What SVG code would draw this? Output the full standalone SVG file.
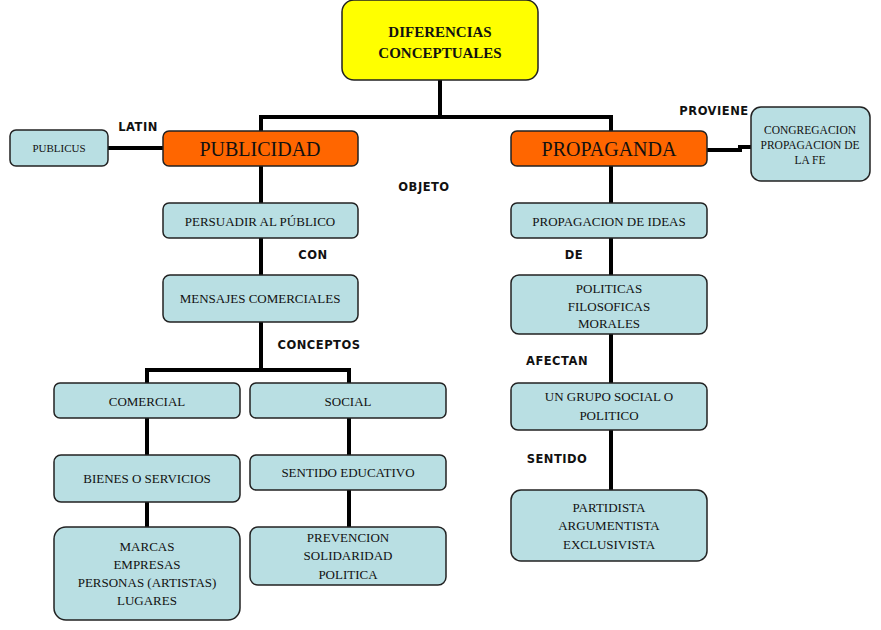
<svg xmlns="http://www.w3.org/2000/svg" width="881" height="630" viewBox="0 0 881 630">
<style>
.b{fill:#b9dfe3;stroke:#222;stroke-width:1.5}
.o{fill:#ff6600;stroke:#222;stroke-width:1.5}
.y{fill:#ffff00;stroke:#222;stroke-width:1.5}
text{font-family:"Liberation Serif",serif;font-size:13px;fill:#111;text-anchor:middle}
.l{font-family:"DejaVu Sans",sans-serif;font-size:11.5px;font-weight:bold;letter-spacing:0.5px}
.big{font-size:20px}
.t{font-size:15px;font-weight:bold}
.c line,.c path{stroke:#000;stroke-width:4;fill:none}
</style>
<rect width="881" height="630" fill="#fff"/>
<g class="c">
<line x1="440" y1="80" x2="440" y2="117"/>
<path d="M261 131V117H611V131"/>
<line x1="108" y1="148" x2="163" y2="148"/>
<path d="M707 150H740V147H751"/>
<line x1="261" y1="166" x2="261" y2="275"/>
<line x1="611" y1="166" x2="611" y2="490"/>
<line x1="261" y1="322" x2="261" y2="370"/>
<path d="M147 383V370H349V383"/>
<line x1="147" y1="418" x2="147" y2="527"/>
<line x1="349" y1="418" x2="349" y2="527"/>
</g>
<g id="title"><rect class="y" x="342" y="0" width="196" height="80" rx="12"/><text class="t" x="440" y="37">DIFERENCIAS</text><text class="t" x="440" y="58">CONCEPTUALES</text></g>
<g id="publicidad"><rect class="o" x="163" y="131" width="195" height="35" rx="6"/><text class="big" x="260" y="156">PUBLICIDAD</text></g>
<g id="propaganda"><rect class="o" x="511" y="131" width="196" height="35" rx="6"/><text class="big" x="609" y="156">PROPAGANDA</text></g>
<g id="publicus"><rect class="b" x="10" y="130" width="98" height="36" rx="6"/><text x="59" y="152" style="font-size:11px">PUBLICUS</text></g>
<g id="congregacion"><rect class="b" x="751" y="107" width="119" height="74" rx="10"/><text x="810" y="134" style="font-size:11.5px">CONGREGACION</text><text x="810" y="149" style="font-size:11.5px">PROPAGACION DE</text><text x="810" y="164" style="font-size:11.5px">LA FE</text></g>
<g id="persuadir"><rect class="b" x="163" y="203" width="195" height="35" rx="6"/><text x="260" y="226">PERSUADIR AL PÚBLICO</text></g>
<g id="ideas"><rect class="b" x="511" y="203" width="196" height="35" rx="6"/><text x="609" y="226">PROPAGACION DE IDEAS</text></g>
<g id="mensajes"><rect class="b" x="163" y="275" width="195" height="47" rx="7"/><text x="260" y="303">MENSAJES COMERCIALES</text></g>
<g id="politicas"><rect class="b" x="511" y="275" width="196" height="59" rx="8"/><text x="609" y="293">POLITICAS</text><text x="609" y="311">FILOSOFICAS</text><text x="609" y="328">MORALES</text></g>
<g id="comercial"><rect class="b" x="54" y="383" width="186" height="35" rx="6"/><text x="147" y="406">COMERCIAL</text></g>
<g id="social"><rect class="b" x="250" y="383" width="196" height="35" rx="6"/><text x="348" y="406">SOCIAL</text></g>
<g id="grupo"><rect class="b" x="511" y="383" width="196" height="47" rx="7"/><text x="609" y="401">UN GRUPO SOCIAL O</text><text x="609" y="420">POLITICO</text></g>
<g id="bienes"><rect class="b" x="54" y="455" width="186" height="47" rx="7"/><text x="147" y="483">BIENES O SERVICIOS</text></g>
<g id="educativo"><rect class="b" x="250" y="455" width="196" height="35" rx="6"/><text x="348" y="477">SENTIDO EDUCATIVO</text></g>
<g id="marcas"><rect class="b" x="54" y="527" width="186" height="93" rx="12"/><text x="147" y="551">MARCAS</text><text x="147" y="569">EMPRESAS</text><text x="147" y="587">PERSONAS (ARTISTAS)</text><text x="147" y="605">LUGARES</text></g>
<g id="prevencion"><rect class="b" x="250" y="527" width="196" height="58" rx="8"/><text x="348" y="542">PREVENCION</text><text x="348" y="560">SOLIDARIDAD</text><text x="348" y="579">POLITICA</text></g>
<g id="partidista"><rect class="b" x="511" y="490" width="196" height="71" rx="10"/><text x="609" y="512">PARTIDISTA</text><text x="609" y="530">ARGUMENTISTA</text><text x="609" y="549">EXCLUSIVISTA</text></g>
<g id="labels">
<text class="l" x="138" y="131">LATIN</text>
<text class="l" x="714" y="115">PROVIENE</text>
<text class="l" x="424" y="191">OBJETO</text>
<text class="l" x="313" y="259">CON</text>
<text class="l" x="574" y="259">DE</text>
<text class="l" x="319" y="349">CONCEPTOS</text>
<text class="l" x="557" y="365">AFECTAN</text>
<text class="l" x="557" y="463">SENTIDO</text>
</g>
</svg>
